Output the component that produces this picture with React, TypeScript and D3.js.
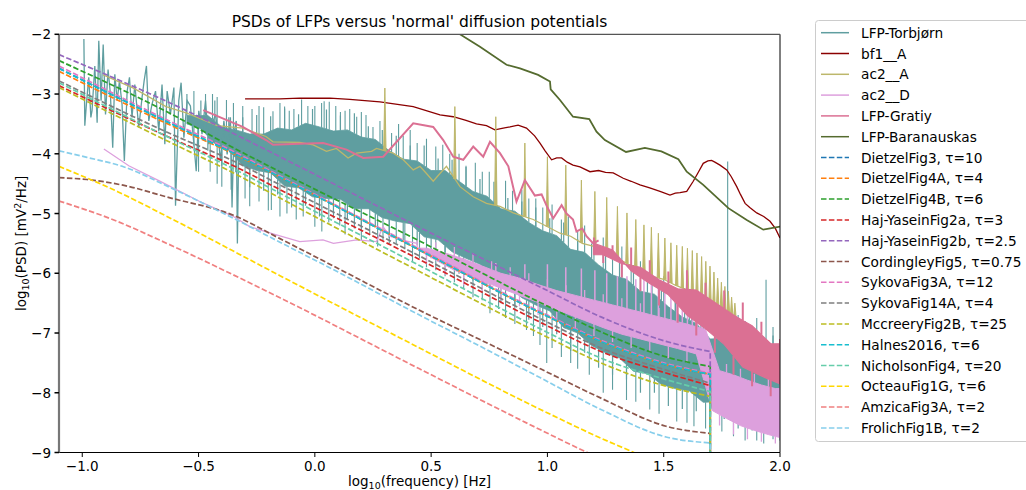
import React from 'react';
import * as d3 from 'd3';

const W = 1026, H = 490;
const PL = 59, PR = 780, PT = 34.3, PB = 452.5;

const xTicks = [-1.0, -0.5, 0.0, 0.5, 1.0, 1.5, 2.0];
const yTicks = [-2, -3, -4, -5, -6, -7, -8, -9];

// LFP-Torbjørn: low-frequency trace [log10 f, log10 PSD]
const torbLow: number[][] = [
  [-0.993, -2.08], [-0.989, -3.53], [-0.981, -3.11], [-0.972, -2.72], [-0.963, -3.39], [-0.958, -3.28],
  [-0.946, -2.53], [-0.936, -3.48], [-0.929, -2.11], [-0.919, -3.11], [-0.91, -2.17], [-0.9, -3.34],
  [-0.889, -2.59], [-0.879, -3.0], [-0.869, -3.9], [-0.86, -2.67], [-0.85, -3.11], [-0.84, -2.78],
  [-0.829, -3.17], [-0.819, -4.12], [-0.807, -2.95], [-0.797, -2.72], [-0.786, -3.39], [-0.774, -2.84],
  [-0.757, -3.56], [-0.743, -3.06], [-0.734, -2.78], [-0.724, -2.53], [-0.714, -3.45], [-0.7, -3.17],
  [-0.685, -2.95], [-0.671, -3.62], [-0.657, -2.84], [-0.645, -3.84], [-0.635, -2.95], [-0.621, -3.34],
  [-0.606, -2.89], [-0.599, -4.87], [-0.585, -3.11], [-0.575, -2.81], [-0.563, -3.73], [-0.549, -3.11],
  [-0.535, -3.2], [-0.52, -3.84], [-0.51, -4.29], [-0.499, -3.28], [-0.485, -3.67], [-0.47, -3.11],
  [-0.456, -3.84], [-0.442, -3.5], [-0.427, -3.34], [-0.416, -3.67], [-0.406, -4.12], [-0.391, -3.45],
  [-0.377, -4.01], [-0.363, -3.39], [-0.356, -4.9], [-0.348, -3.67], [-0.338, -3.45], [-0.333, -5.5],
  [-0.327, -3.84]
];
// LFP-Torbjørn: dense part, ragged upper and lower edge
const torbBandX = [-0.55, -0.52, -0.49, -0.46, -0.43, -0.40, -0.37, -0.34, -0.31, -0.28, -0.25, -0.22, -0.19, -0.16, -0.13, -0.10, -0.07, -0.04, -0.01, 0.02, 0.05, 0.08, 0.11, 0.14, 0.17, 0.20, 0.23, 0.26, 0.29, 0.32, 0.35, 0.38, 0.41, 0.44, 0.47, 0.50, 0.53, 0.56, 0.59, 0.62, 0.65, 0.68, 0.71, 0.74, 0.77, 0.80, 0.83, 0.86, 0.89, 0.92, 0.95, 0.98, 1.01, 1.04, 1.07, 1.10, 1.13, 1.16, 1.19, 1.22, 1.25, 1.28, 1.31, 1.34, 1.37, 1.40, 1.43, 1.46, 1.49, 1.52, 1.55, 1.58, 1.61, 1.64, 1.67, 1.70, 1.73, 1.76, 1.79, 1.82, 1.85, 1.88, 1.91, 1.94, 1.97, 2.00];
const torbBandHi = [-3.00, -3.36, -3.11, -3.36, -3.11, -3.55, -3.39, -3.60, -3.39, -3.67, -3.35, -3.67, -3.37, -3.57, -3.24, -3.60, -3.34, -3.49, -3.25, -3.55, -3.26, -3.62, -3.36, -3.60, -3.32, -3.72, -3.54, -3.76, -3.60, -3.95, -3.70, -4.09, -3.86, -4.12, -3.86, -4.28, -4.08, -4.28, -4.10, -4.46, -4.22, -4.63, -4.42, -4.71, -4.47, -4.92, -4.74, -4.96, -4.80, -5.15, -4.90, -5.29, -5.08, -5.37, -5.15, -5.60, -5.43, -5.65, -5.50, -5.86, -5.63, -6.03, -5.82, -6.10, -5.86, -6.30, -6.13, -6.35, -6.20, -6.56, -6.33, -6.73, -6.53, -6.84, -6.63, -7.10, -6.90, -7.09, -6.91, -7.23, -6.95, -7.31, -7.06, -7.31, -7.04, -7.45];
const torbBandLo = [-3.50, -3.86, -3.58, -3.95, -3.83, -4.20, -3.94, -4.31, -4.20, -4.56, -4.28, -4.62, -4.32, -4.68, -4.54, -4.90, -4.57, -4.87, -4.72, -5.05, -4.75, -5.08, -4.76, -5.09, -4.92, -5.25, -4.92, -5.22, -5.07, -5.41, -5.13, -5.47, -5.17, -5.53, -5.39, -5.75, -5.44, -5.77, -5.64, -6.01, -5.75, -6.12, -5.85, -6.23, -6.12, -6.50, -6.20, -6.53, -6.41, -6.78, -6.53, -6.90, -6.63, -7.02, -6.91, -7.30, -7.00, -7.33, -7.21, -7.58, -7.33, -7.70, -7.42, -7.78, -7.64, -8.00, -7.68, -8.00, -7.86, -8.22, -7.93, -8.27, -7.97, -8.31, -8.16, -8.50, -8.15, -8.44, -8.27, -8.60, -8.30, -8.63, -8.31, -8.64, -8.47, -8.80];
const torbUpSpikes: number[][] = [
  [-0.52, -2.95], [-0.47, -3.0], [-0.44, -3.0], [-0.42, -3.05], [-0.38, -3.1], [-0.35, -3.15], [-0.31, -3.2],
  [-0.27, -3.25], [-0.24, -3.2], [-0.22, -3.22], [-0.18, -3.29], [-0.15, -3.15], [-0.13, -3.21], [-0.11, -3.28],
  [-0.09, -3.25], [-0.057, -3.09], [-0.03, -3.2], [0.0, -3.2], [0.029, -3.15], [0.04, -3.12], [0.062, -3.13],
  [0.09, -3.2], [0.11, -3.3], [0.13, -3.28], [0.15, -3.25], [0.18, -3.38], [0.2, -3.3], [0.22, -3.35],
  [0.25, -3.55], [0.28, -3.45], [0.33, -3.65], [0.36, -3.5], [0.38, -3.7], [0.41, -3.6], [0.44, -3.82],
  [0.48, -3.75], [0.52, -3.88], [0.55, -3.85], [0.58, -4.0], [0.62, -4.0], [0.65, -4.2], [0.69, -4.15],
  [0.72, -4.3], [0.75, -4.3], [0.78, -4.45], [0.82, -4.45], [0.85, -4.62], [0.89, -4.6], [0.92, -4.75],
  [0.95, -4.75], [0.98, -4.9], [1.02, -4.85], [1.06, -5.1], [1.09, -5.05], [1.13, -5.3], [1.16, -5.2],
  [1.2, -5.45], [1.24, -5.4], [1.28, -5.65], [1.32, -5.55], [1.36, -5.85], [1.4, -5.8], [1.45, -6.05],
  [1.5, -6.05], [1.55, -6.3], [1.59, -6.25], [1.62, -6.45], [1.66, -6.4], [1.72, -6.55], [1.775, -4.13],
  [1.82, -6.7], [1.85, -6.8], [1.9, -6.75], [1.94, -6.11], [1.97, -6.9]
];
const torbDownSpikes: number[][] = [
  [-0.5, -4.3], [-0.45, -4.3], [-0.42, -4.5], [-0.4, -4.55], [-0.36, -4.6], [-0.3, -4.75], [-0.28, -4.88],
  [-0.24, -4.8], [-0.2, -4.95], [-0.187, -4.94], [-0.15, -5.05], [-0.12, -5.0], [-0.08, -5.1], [-0.05, -5.05],
  [0.0, -5.22], [0.03, -5.3], [0.06, -5.15], [0.107, -5.2], [0.13, -5.35], [0.17, -5.25], [0.2, -5.45],
  [0.236, -5.35], [0.27, -5.55], [0.293, -5.45], [0.32, -5.5], [0.35, -5.5], [0.387, -5.6], [0.42, -5.8],
  [0.45, -5.75], [0.48, -5.9], [0.52, -5.95], [0.56, -6.05], [0.6, -6.15], [0.64, -6.25], [0.68, -6.4],
  [0.72, -6.45], [0.753, -6.67], [0.79, -6.6], [0.82, -6.75], [0.86, -6.85], [0.91, -6.95], [0.94, -7.05],
  [0.968, -7.2], [0.997, -7.5], [1.02, -7.25], [1.06, -7.4], [1.1, -7.5], [1.13, -7.6], [1.18, -7.7],
  [1.24, -8.0], [1.28, -7.95], [1.34, -8.12], [1.38, -8.15], [1.44, -8.28], [1.48, -8.35], [1.556, -8.48],
  [1.6, -8.5], [1.63, -8.56], [1.68, -8.6], [1.75, -8.65], [1.8, -8.73], [1.85, -8.8], [1.9, -8.8],
  [1.93, -8.85], [1.97, -8.78]
];

// bf1__A
const bf1: number[][] = [
  [-0.30, -3.08], [-0.15, -3.08], [-0.065, -3.07], [0.065, -3.07], [0.15, -3.09], [0.28, -3.13], [0.423, -3.21],
  [0.538, -3.35], [0.595, -3.38], [0.65, -3.44], [0.695, -3.50], [0.738, -3.53], [0.774, -3.60], [0.81, -3.57],
  [0.839, -3.55], [0.874, -3.52], [0.91, -3.57], [0.945, -3.7], [0.968, -3.82], [0.99, -3.95], [1.018, -4.1],
  [1.04, -4.07], [1.061, -4.07], [1.085, -4.14], [1.11, -4.19], [1.14, -4.22], [1.183, -4.30], [1.22, -4.28],
  [1.25, -4.31], [1.283, -4.32], [1.326, -4.41], [1.36, -4.46], [1.398, -4.52], [1.44, -4.57], [1.484, -4.63],
  [1.527, -4.69], [1.55, -4.66], [1.57, -4.65], [1.599, -4.63], [1.627, -4.46], [1.65, -4.3], [1.67, -4.16],
  [1.69, -4.12], [1.706, -4.11], [1.72, -4.14], [1.742, -4.19], [1.771, -4.27], [1.79, -4.38], [1.814, -4.55],
  [1.83, -4.68], [1.85, -4.83], [1.87, -4.9], [1.9, -4.99], [1.93, -5.05], [1.957, -5.13], [1.98, -5.25], [2.0, -5.41]
];

// ac2__A base trace and harmonic peaks
const ac2A: number[][] = [
  [-0.91, -2.68], [-0.78, -2.90], [-0.64, -3.21], [-0.55, -3.32], [-0.42, -3.53], [-0.31, -3.57], [-0.21, -3.71],
  [-0.18, -3.80], [-0.065, -3.81], [-0.007, -3.85], [0.05, -3.96], [0.093, -3.91], [0.143, -4.07], [0.179, -3.99],
  [0.244, -3.96], [0.265, -3.91], [0.337, -3.99], [0.38, -4.10], [0.423, -4.27], [0.452, -4.21], [0.48, -4.33],
  [0.509, -4.46], [0.538, -4.33], [0.566, -4.21], [0.624, -4.55], [0.681, -4.72], [0.738, -4.83], [0.796, -4.88],
  [0.853, -4.99], [0.939, -5.10], [0.99, -5.2], [1.054, -5.33], [1.1, -5.38], [1.15, -5.5], [1.2, -5.55],
  [1.25, -5.7], [1.3, -5.75], [1.35, -5.85], [1.4, -5.92], [1.45, -6.05], [1.5, -6.1], [1.55, -6.2],
  [1.6, -6.28], [1.65, -6.4], [1.7, -6.5], [1.75, -6.6], [1.8, -6.72], [1.85, -6.85]
];
const ac2APeakX = [0.301, 0.602, 0.778, 0.903, 1.0, 1.079, 1.146, 1.204, 1.255, 1.301, 1.342, 1.38, 1.415, 1.447, 1.477, 1.505, 1.531, 1.556, 1.58, 1.602, 1.623, 1.643, 1.663, 1.681, 1.699, 1.716, 1.732, 1.748, 1.763, 1.778, 1.792, 1.806];
const ac2APeakY = [-2.90, -3.21, -3.38, -3.82, -4.05, -4.19, -4.44, -4.63, -4.73, -4.88, -4.99, -5.10, -5.19, -5.23, -5.33, -5.41, -5.49, -5.53, -5.55, -5.58, -5.62, -5.66, -5.72, -5.8, -5.88, -5.98, -6.08, -6.15, -6.22, -6.3, -6.4, -6.5];

// ac2__D
const ac2D: number[][] = [
  [-0.907, -3.92], [-0.80, -4.2], [-0.671, -4.45], [-0.499, -4.79], [-0.35, -5.05], [-0.28, -5.22], [-0.18, -5.34],
  [-0.065, -5.47], [0.035, -5.44], [0.08, -5.5], [0.18, -5.44], [0.265, -5.47], [0.293, -5.22], [0.322, -5.38],
  [0.38, -5.45], [0.44, -5.5]
];
const ac2DBandX = [0.44, 0.48, 0.52, 0.56, 0.60, 0.64, 0.68, 0.72, 0.76, 0.80, 0.84, 0.88, 0.92, 0.96, 1.00, 1.04, 1.08, 1.12, 1.16, 1.20, 1.24, 1.28, 1.32, 1.36, 1.40, 1.44, 1.48, 1.52, 1.56, 1.60, 1.64, 1.68, 1.71, 1.74, 1.77, 1.80, 1.83, 1.86, 1.89, 1.92, 1.95, 1.98, 2.00];
const ac2DBandHi = [-5.45, -5.58, -5.48, -5.66, -5.56, -5.76, -5.66, -5.88, -5.80, -6.00, -5.90, -6.08, -6.00, -6.19, -6.10, -6.29, -6.20, -6.37, -6.28, -6.45, -6.35, -6.53, -6.42, -6.61, -6.50, -6.69, -6.58, -6.77, -6.66, -6.85, -6.75, -6.94, -7.45, -7.63, -7.52, -7.70, -7.60, -7.79, -7.68, -7.87, -7.75, -7.93, -7.80];
const ac2DBandLo = [-5.60, -5.85, -5.78, -6.02, -5.95, -6.20, -6.07, -6.30, -6.19, -6.45, -6.31, -6.55, -6.43, -6.70, -6.55, -6.80, -6.67, -6.92, -6.79, -7.05, -6.91, -7.15, -7.02, -7.25, -7.10, -7.32, -7.18, -7.42, -7.26, -7.50, -7.35, -7.60, -8.30, -8.55, -8.43, -8.70, -8.55, -8.78, -8.63, -8.82, -8.70, -8.85, -8.75];
const ac2DPeakX = [0.778, 0.903, 1.0, 1.079, 1.146, 1.204, 1.255, 1.301, 1.342, 1.38, 1.415, 1.447, 1.477, 1.505, 1.531, 1.556, 1.58, 1.602, 1.623, 1.643, 1.663, 1.681];
const ac2DPeakY = [-5.83, -5.85, -5.85, -5.9, -5.92, -5.95, -6.0, -6.05, -6.05, -6.1, -6.1, -6.15, -6.15, -6.2, -6.2, -6.25, -6.3, -6.3, -6.35, -6.35, -6.4, -6.45];

// LFP-Gratiy
const gratiy: number[][] = [
  [-0.48, -3.27], [-0.31, -3.55], [-0.21, -3.77], [-0.18, -3.85], [-0.065, -3.83], [0.036, -3.82], [0.136, -3.93],
  [0.208, -4.07], [0.294, -4.05], [0.423, -3.49], [0.509, -3.55], [0.552, -3.77], [0.595, -4.05], [0.638, -4.1],
  [0.681, -3.88], [0.724, -4.05], [0.753, -3.80], [0.796, -3.99], [0.832, -4.21], [0.867, -4.80], [0.903, -4.44],
  [0.946, -4.7], [0.975, -4.68], [1.0, -4.9], [1.025, -5.08], [1.061, -4.86], [1.082, -5.0], [1.11, -5.1],
  [1.125, -5.3], [1.15, -5.25], [1.168, -5.38], [1.197, -5.5], [1.22, -5.45]
];
const gratiyBandX = [1.20, 1.24, 1.28, 1.32, 1.36, 1.40, 1.44, 1.48, 1.52, 1.56, 1.60, 1.64, 1.68, 1.72, 1.76, 1.80, 1.84, 1.88, 1.92, 1.96, 2.00];
const gratiyBandHi = [-5.40, -5.69, -5.53, -5.84, -5.57, -5.90, -5.78, -6.11, -5.97, -6.26, -5.95, -6.28, -6.16, -6.49, -6.29, -6.70, -6.49, -6.88, -6.81, -7.18, -7.10];
const gratiyBandLo = [-5.50, -5.83, -5.61, -6.07, -5.96, -6.30, -6.17, -6.54, -6.36, -6.83, -6.70, -7.04, -6.93, -7.33, -7.19, -7.70, -7.57, -7.89, -7.72, -8.06, -7.85];

// LFP-Baranauskas
const baran: number[][] = [
  [0.55, -1.85], [0.624, -2.0], [0.71, -2.21], [0.824, -2.51], [0.882, -2.57], [0.96, -2.68], [1.011, -2.79],
  [1.014, -2.92], [1.054, -3.10], [1.11, -3.38], [1.18, -3.42], [1.211, -3.63], [1.247, -3.77], [1.338, -3.97],
  [1.419, -3.90], [1.49, -3.96], [1.563, -4.09], [1.599, -4.30], [1.67, -4.52], [1.778, -4.91], [1.857, -5.11],
  [1.928, -5.27], [2.0, -5.22]
];

// diffusion potentials (dashed)
const dashX = [-1.1, -0.6, -0.35, -0.15, 0.45, 1.0, 1.23, 1.51, 1.7];
const dietzel3 = [-2.57, -3.53, -3.99, -4.39, -5.61, -6.72, -7.14, -7.53, -7.69];
const dietzel4A = [-2.62, -3.56, -4.0, -4.39, -5.61, -6.72, -7.14, -7.53, -7.69];
const dietzel4B = [-2.44, -3.37, -3.9, -4.3, -5.46, -6.55, -6.98, -7.4, -7.56];
const hajYasein2a = [-2.86, -3.77, -4.2, -4.6, -5.77, -6.88, -7.31, -7.67, -7.88];
const hajYasein2b = [-2.34, -3.19, -3.66, -4.05, -5.23, -6.29, -6.73, -7.14, -7.31];
const sykova3A = [-2.53, -3.5, -3.96, -4.37, -5.59, -6.7, -7.12, -7.51, -7.67];
const sykova14A = [-2.78, -3.7, -4.12, -4.52, -5.71, -6.82, -7.25, -7.62, -7.84];
const mccreery2B = [-2.89, -3.85, -4.32, -4.74, -5.97, -7.07, -7.5, -7.89, -8.06];
const halnes2016 = [-2.57, -3.53, -3.99, -4.39, -5.61, -6.72, -7.14, -7.53, -7.69];
const nicholson4 = [-2.81, -3.78, -4.25, -4.66, -5.87, -6.99, -7.42, -7.78, -7.98];
const kneeX = [-1.1, -0.98, -0.82, -0.63, -0.35, -0.15, 0.1, 0.45, 0.71, 0.97, 1.23, 1.51, 1.7];
const cordingley5 = [-4.40, -4.43, -4.53, -4.73, -5.03, -5.42, -5.92, -6.62, -7.11, -7.6, -8.09, -8.56, -8.68];
const frolich1B = [-3.95, -4.06, -4.22, -4.55, -5.08, -5.48, -5.98, -6.7, -7.22, -7.75, -8.28, -8.74, -8.84];
const octeauX = [-1.1, -0.85, -0.6, -0.15, 0.45, 0.97, 1.23, 1.36, 1.7];
const octeau1G = [-4.21, -4.63, -5.12, -6.04, -7.25, -8.28, -8.76, -8.98, -9.6];
const amzicaX = [-1.1, -0.85, -0.67, -0.15, 0.45, 0.97, 1.16, 1.4];
const amzica3A = [-4.79, -5.13, -5.44, -6.41, -7.6, -8.62, -8.98, -9.4];

const solidSeries = [
  { name: 'LFP-Torbjørn', color: '#5f9ea0' },
  { name: 'bf1__A', color: '#8b0000' },
  { name: 'ac2__A', color: '#bdb76b' },
  { name: 'ac2__D', color: '#dda0dd' },
  { name: 'LFP-Gratiy', color: '#db7093' },
  { name: 'LFP-Baranauskas', color: '#556b2f' },
];
const dashedSeries = [
  { name: 'DietzelFig3, τ=10', color: '#1f77b4', xs: dashX, ys: dietzel3, drop: true },
  { name: 'DietzelFig4A, τ=4', color: '#ff7f0e', xs: dashX, ys: dietzel4A, drop: true },
  { name: 'DietzelFig4B, τ=6', color: '#2ca02c', xs: dashX, ys: dietzel4B, drop: true },
  { name: 'Haj-YaseinFig2a, τ=3', color: '#d62728', xs: dashX, ys: hajYasein2a, drop: true },
  { name: 'Haj-YaseinFig2b, τ=2.5', color: '#9467bd', xs: dashX, ys: hajYasein2b, drop: true },
  { name: 'CordingleyFig5, τ=0.75', color: '#8c564b', xs: kneeX, ys: cordingley5, drop: true },
  { name: 'SykovaFig3A, τ=12', color: '#e377c2', xs: dashX, ys: sykova3A, drop: true },
  { name: 'SykovaFig14A, τ=4', color: '#7f7f7f', xs: dashX, ys: sykova14A, drop: true },
  { name: 'MccreeryFig2B, τ=25', color: '#bcbd22', xs: dashX, ys: mccreery2B, drop: true },
  { name: 'Halnes2016, τ=6', color: '#17becf', xs: dashX, ys: halnes2016, drop: true },
  { name: 'NicholsonFig4, τ=20', color: '#66cdaa', xs: dashX, ys: nicholson4, drop: true },
  { name: 'OcteauFig1G, τ=6', color: '#ffd700', xs: octeauX, ys: octeau1G, drop: false },
  { name: 'AmzicaFig3A, τ=2', color: '#f08080', xs: amzicaX, ys: amzica3A, drop: false },
  { name: 'FrolichFig1B, τ=2', color: '#87ceeb', xs: kneeX, ys: frolich1B, drop: true },
];

const FONT = 'DejaVu Sans, sans-serif';
const DASH = '5.5,2.4';

// Split a ragged band into an inner filled body plus hair-like spikes:
// even-index upper values and odd-index lower values stick out as spikes.
function ragged(xs: number[], hi: number[], lo: number[]) {
  const hiIn = xs.map((v, i) => [v, hi[i]]).filter((_, i) => i % 2 === 1);
  const loIn = xs.map((v, i) => [v, lo[i]]).filter((_, i) => i % 2 === 0);
  const hiAt = d3.scaleLinear().domain(hiIn.map(d => d[0])).range(hiIn.map(d => d[1])).clamp(true);
  const loAt = d3.scaleLinear().domain(loIn.map(d => d[0])).range(loIn.map(d => d[1])).clamp(true);
  const body = xs.map(v => [v, hiAt(v), loAt(v)]);
  const hairs: number[][] = [];
  xs.forEach((v, i) => {
    if (i % 2 === 0) hairs.push([v, hiAt(v), hi[i]]);
    else hairs.push([v, loAt(v), lo[i]]);
  });
  return { body, hairs, hiAt, loAt };
}

export default function App() {
  const x = d3.scaleLinear().domain([-1.1, 2.0]).range([PL, PR]);
  const y = d3.scaleLinear().domain([-9, -2]).range([PB, PT]);
  const line = d3.line<number[]>().x(d => x(d[0])).y(d => y(d[1]));
  const smooth = d3.line<number[]>().x(d => x(d[0])).y(d => y(d[1])).curve(d3.curveMonotoneX);
  const band = d3.area<number[]>().x(d => x(d[0])).y0(d => y(d[2])).y1(d => y(d[1]));

  const torb = ragged(torbBandX, torbBandHi, torbBandLo);
  const grat = ragged(gratiyBandX, gratiyBandHi, gratiyBandLo);
  const pl = ragged(ac2DBandX, ac2DBandHi, ac2DBandLo);
  const ac2AAt = d3.scaleLinear().domain(ac2A.map(d => d[0])).range(ac2A.map(d => d[1])).clamp(true);

  const teal = solidSeries[0].color;
  const khaki = solidSeries[2].color;
  const plum = solidSeries[3].color;
  const rose = solidSeries[4].color;
  const legendY0 = 32.7, legendStep = 20.8;
  const allLegend = [
    ...solidSeries.map(s => ({ name: s.name, color: s.color, dashed: false })),
    ...dashedSeries.map(s => ({ name: s.name, color: s.color, dashed: true })),
  ];

  return (
    <svg width={W} height={H} style={{ position: 'absolute', left: 0, top: 0, background: '#fff' }} fontFamily={FONT}>
      <defs>
        <clipPath id="plot"><rect x={PL} y={PT} width={PR - PL} height={PB - PT} /></clipPath>
      </defs>
      <rect x={0} y={0} width={W} height={H} fill="#fff" />
      <g clipPath="url(#plot)">
        {/* LFP-Torbjørn */}
        <path d={band(torb.body) || ''} fill={teal} stroke={teal} strokeWidth={0.8} />
        {torb.hairs.map((d, i) => (
          <line key={'th' + i} x1={x(d[0])} x2={x(d[0])} y1={y(d[1])} y2={y(d[2])} stroke={teal} strokeWidth={1.2} />
        ))}
        {torbUpSpikes.map((d, i) => (
          <line key={'tu' + i} x1={x(d[0])} x2={x(d[0])} y1={y(torb.hiAt(d[0]))} y2={y(d[1])} stroke={teal} strokeWidth={1.1} />
        ))}
        {torbDownSpikes.map((d, i) => (
          <line key={'td' + i} x1={x(d[0])} x2={x(d[0])} y1={y(torb.loAt(d[0]))} y2={y(d[1])} stroke={teal} strokeWidth={1.1} />
        ))}
        <path d={line(torbLow) || ''} fill="none" stroke={teal} strokeWidth={1.3} />
        {/* bf1__A */}
        <path d={line(bf1) || ''} fill="none" stroke="#8b0000" strokeWidth={1.3} />
        {/* ac2__A */}
        <path d={line(ac2A) || ''} fill="none" stroke={khaki} strokeWidth={1.3} />
        {ac2APeakX.map((v, i) => (
          <path key={'ka' + i} d={`M${x(v) - 1.2},${y(ac2AAt(v))}L${x(v)},${y(ac2APeakY[i])}L${x(v) + 1.2},${y(ac2AAt(v))}`} fill={khaki} stroke={khaki} strokeWidth={1} />
        ))}
        {/* ac2__D */}
        <path d={band(pl.body) || ''} fill={plum} stroke={plum} strokeWidth={1} />
        {pl.hairs.map((d, i) => (
          <line key={'ph' + i} x1={x(d[0])} x2={x(d[0])} y1={y(d[1])} y2={y(d[2])} stroke={plum} strokeWidth={1.3} />
        ))}
        {ac2DPeakX.map((v, i) => (
          <line key={'pd' + i} x1={x(v)} x2={x(v)} y1={y(pl.hiAt(v))} y2={y(ac2DPeakY[i])} stroke={plum} strokeWidth={1.5} />
        ))}
        <path d={line(ac2D) || ''} fill="none" stroke={plum} strokeWidth={1.3} />
        {/* LFP-Gratiy */}
        <path d={band(grat.body) || ''} fill={rose} stroke={rose} strokeWidth={1.2} />
        {grat.hairs.map((d, i) => (
          <line key={'gh' + i} x1={x(d[0])} x2={x(d[0])} y1={y(d[1])} y2={y(d[2])} stroke={rose} strokeWidth={2} />
        ))}
        <path d={line(gratiy) || ''} fill="none" stroke={rose} strokeWidth={2} />
        {/* LFP-Baranauskas */}
        <path d={line(baran) || ''} fill="none" stroke="#556b2f" strokeWidth={1.8} />
        {/* diffusion potentials */}
        {dashedSeries.map((s, i) => {
          const pts = s.xs.map((v, j) => [v, s.ys[j]]);
          let d = smooth(pts) || '';
          if (s.drop) d += `L${x(1.7)},${y(-12)}`;
          return <path key={'ds' + i} d={d} fill="none" stroke={s.color} strokeWidth={1.7} strokeDasharray={DASH} />;
        })}
      </g>
      {/* spines */}
      <line x1={PL} x2={PR} y1={PB} y2={PB} stroke="#000" strokeWidth={1} />
      <line x1={PR} x2={PR} y1={PT} y2={PB} stroke="#000" strokeWidth={1} />
      <line x1={PL} x2={PR} y1={PT} y2={PT} stroke="#555" strokeWidth={1.3} />
      <line x1={PL} x2={PL} y1={PT} y2={PB} stroke="#777" strokeWidth={2.2} />
      {/* ticks */}
      {xTicks.map(t => (
        <g key={'xt' + t}>
          <line x1={x(t)} x2={x(t)} y1={PB} y2={PB + 4.5} stroke="#000" strokeWidth={1} />
          <text x={x(t)} y={PB + 18} textAnchor="middle" fontSize={13.5} fill="#000">{d3.format('.1f')(t).replace('-', '−')}</text>
        </g>
      ))}
      {yTicks.map(t => (
        <g key={'yt' + t}>
          <line x1={PL - 4.5} x2={PL} y1={y(t)} y2={y(t)} stroke="#000" strokeWidth={1.5} />
          <text x={PL - 8} y={y(t) + 5} textAnchor="end" fontSize={13.5} fill="#000">{String(t).replace('-', '−')}</text>
        </g>
      ))}
      {/* title */}
      <text x={(PL + PR) / 2} y={27} textAnchor="middle" fontSize={15.5} fill="#000">PSDs of LFPs versus 'normal' diffusion potentials</text>
      {/* axis labels */}
      <text x={(PL + PR) / 2} y={486} textAnchor="middle" fontSize={13.5} fill="#000">
        log<tspan fontSize={9.5} dy={3}>10</tspan><tspan dy={-3}>(frequency) [Hz]</tspan>
      </text>
      <text transform={`translate(26,${(PT + PB) / 2}) rotate(-90)`} textAnchor="middle" fontSize={13.5} fill="#000">
        log<tspan fontSize={9.5} dy={3}>10</tspan><tspan dy={-3}>(PSD) [mV</tspan><tspan fontSize={9.5} dy={-5}>2</tspan><tspan dy={5}>/Hz]</tspan>
      </text>
      {/* legend */}
      <rect x={815.5} y={20.5} width={220} height={421} rx={3} fill="#fff" stroke="#cccccc" strokeWidth={1} />
      {allLegend.map((s, i) => {
        const cy = legendY0 + i * legendStep;
        return (
          <g key={'lg' + i}>
            <line x1={821} x2={849} y1={cy} y2={cy} stroke={s.color} strokeWidth={1.5} strokeDasharray={s.dashed ? DASH : undefined} />
            <text x={861} y={cy + 5} fontSize={13.7} fill="#000">{s.name}</text>
          </g>
        );
      })}
    </svg>
  );
}
